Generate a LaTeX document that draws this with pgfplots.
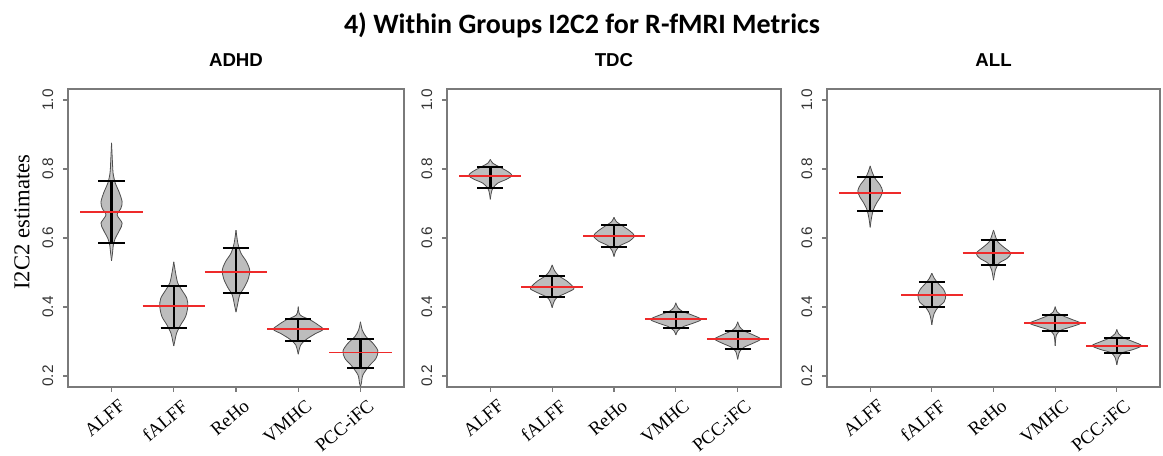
\documentclass[border=0pt]{standalone}
\usepackage{fontspec}
\setmainfont{Liberation Serif}
\newfontfamily\arial{Liberation Sans}
\newfontfamily\calibri{Carlito}
\usepackage{pgfplots}
\usepackage{pgfplotstable}
\pgfplotsset{compat=1.18}

\definecolor{vfill}{HTML}{BDBDBD}
\definecolor{vline}{HTML}{4D4D4D}
\definecolor{frame}{HTML}{7A7A7A}
\definecolor{meanred}{HTML}{EE2A2A}

% violin outlines: y, half width (category units)
% ADHD
\pgfplotstableread{
y w
0.534 0
0.556 0.015
0.580 0.03
0.599 0.06
0.623 0.13
0.643 0.17
0.667 0.09
0.686 0.15
0.705 0.17
0.734 0.12
0.759 0.06
0.788 0.025
0.817 0.015
0.876 0
}\aA
\pgfplotstableread{
y w
0.287 0
0.304 0.02
0.324 0.045
0.348 0.11
0.372 0.19
0.401 0.225
0.425 0.21
0.449 0.13
0.469 0.065
0.498 0.03
0.531 0
}\aB
\pgfplotstableread{
y w
0.385 0
0.411 0.03
0.435 0.06
0.459 0.14
0.483 0.20
0.507 0.22
0.531 0.17
0.556 0.08
0.585 0.03
0.623 0
}\aC
\pgfplotstableread{
y w
0.263 0
0.290 0.04
0.306 0.13
0.322 0.27
0.335 0.40
0.348 0.32
0.362 0.20
0.377 0.03
0.401 0
}\aD
\pgfplotstableread{
y w
0.170 0
0.179 0.015
0.203 0.04
0.229 0.14
0.251 0.25
0.273 0.28
0.295 0.20
0.314 0.09
0.333 0.03
0.357 0
}\aE
% TDC
\pgfplotstableread{
y w
0.712 0
0.730 0.015
0.744 0.04
0.759 0.12
0.770 0.26
0.781 0.35
0.792 0.29
0.805 0.16
0.817 0.04
0.828 0
}\tA
\pgfplotstableread{
y w
0.398 0
0.415 0.03
0.428 0.08
0.440 0.22
0.452 0.35
0.460 0.33
0.475 0.24
0.490 0.11
0.505 0.04
0.522 0
}\tB
\pgfplotstableread{
y w
0.546 0
0.563 0.03
0.578 0.10
0.591 0.25
0.606 0.33
0.620 0.26
0.635 0.14
0.647 0.04
0.660 0
}\tC
\pgfplotstableread{
y w
0.319 0
0.331 0.03
0.343 0.12
0.353 0.28
0.364 0.41
0.376 0.27
0.388 0.10
0.399 0.03
0.412 0
}\tD
\pgfplotstableread{
y w
0.248 0
0.270 0.03
0.283 0.10
0.295 0.25
0.307 0.37
0.319 0.25
0.331 0.10
0.343 0.03
0.357 0
}\tE
% ALL
\pgfplotstableread{
y w
0.631 0
0.657 0.02
0.681 0.05
0.700 0.10
0.720 0.17
0.737 0.20
0.754 0.16
0.773 0.08
0.792 0.03
0.809 0
}\lA
\pgfplotstableread{
y w
0.348 0
0.365 0.015
0.382 0.04
0.399 0.10
0.415 0.20
0.434 0.225
0.451 0.19
0.469 0.10
0.483 0.04
0.498 0
}\lB
\pgfplotstableread{
y w
0.478 0
0.507 0.03
0.527 0.09
0.541 0.22
0.556 0.28
0.573 0.17
0.589 0.07
0.606 0.03
0.623 0
}\lC
\pgfplotstableread{
y w
0.287 0
0.319 0.02
0.333 0.10
0.343 0.27
0.353 0.41
0.364 0.27
0.375 0.12
0.386 0.03
0.401 0
}\lD
\pgfplotstableread{
y w
0.232 0
0.254 0.03
0.268 0.10
0.277 0.27
0.288 0.40
0.299 0.27
0.310 0.12
0.322 0.03
0.335 0
}\lE

% #1 centre, #2 table
\newcommand{\violin}[2]{%
  \addplot[fill=vfill, draw=none, smooth, tension=0.5] table[x expr=#1+\thisrow{w}, y=y] {#2} -- cycle;
  \addplot[fill=vfill, draw=none, smooth, tension=0.5] table[x expr=#1-\thisrow{w}, y=y] {#2} -- cycle;
  \addplot[draw=vline, line width=0.6pt, smooth, tension=0.5] table[x expr=#1+\thisrow{w}, y=y] {#2};
  \addplot[draw=vline, line width=0.6pt, smooth, tension=0.5] table[x expr=#1-\thisrow{w}, y=y] {#2};
}

\pgfplotsset{
  panel/.style={
    scale only axis, height=223.5pt,
    xmin=0.3, xmax=5.7, ymin=0.168, ymax=1.032,
    xtick={1,2,3,4,5}, xticklabels={ALFF,fALFF,ReHo,VMHC,PCC-iFC},
    ytick={0.2,0.4,0.6,0.8,1.0}, yticklabels={0.2,0.4,0.6,0.8,1.0},
    axis line style={frame, line width=0.9pt},
    tick style={frame, line width=0.9pt},
    tick align=outside, tick pos=left, major tick length=3.5pt,
    xticklabel style={font=\fontsize{14}{14}\selectfont, inner sep=0pt,
      xshift=5pt, yshift=-5pt, rotate=40, anchor=north east},
    yticklabel style={font=\arial\fontsize{11.5}{11.5}\selectfont, text=black!80,
      rotate=90, anchor=south},
    yticklabel shift=4pt,
    title style={font=\arial\bfseries\fontsize{14}{14}\selectfont,
      at={(0.5,1)}, anchor=base, yshift=11.25pt},
    unbounded coords=jump,
  },
  whisk/.style={black, line width=1.8pt, mark=none},
  caps/.style={black, line width=1.4pt, mark=none},
  meanline/.style={meanred, line width=1.4pt, mark=none},
}

\begin{document}
\begin{tikzpicture}
\path[use as bounding box] (0,0) rectangle (872.25pt,341.25pt);
\node[font=\calibri\bfseries\fontsize{21}{21}\selectfont, anchor=base] at (436.5pt,316.5pt) {4) Within Groups I2C2 for R-fMRI Metrics};

\begin{axis}[panel, width=252pt, at={(51pt,51pt)}, anchor=south west, title={ADHD},
  ylabel={I2C2 estimates},
  ylabel style={font=\fontsize{17}{17}\selectfont, at={(axis description cs:-0.137,0.554)}, anchor=center}]
\violin{1}{\aA}
\violin{2}{\aB}
\violin{3}{\aC}
\violin{4}{\aD}
\violin{5}{\aE}
\addplot[whisk] coordinates {(1,0.585) (1,0.765) (1,nan) (2,0.340) (2,0.462) (2,nan) (3,0.440) (3,0.570) (3,nan) (4,0.301) (4,0.364) (4,nan) (5,0.222) (5,0.307)};
\addplot[caps] coordinates {(0.79,0.765) (1.21,0.765) (1,nan) (0.79,0.585) (1.21,0.585) (1,nan)
  (1.79,0.462) (2.21,0.462) (2,nan) (1.79,0.340) (2.21,0.340) (2,nan)
  (2.79,0.570) (3.21,0.570) (3,nan) (2.79,0.440) (3.21,0.440) (3,nan)
  (3.79,0.364) (4.21,0.364) (4,nan) (3.79,0.301) (4.21,0.301) (4,nan)
  (4.79,0.307) (5.21,0.307) (5,nan) (4.79,0.222) (5.21,0.222)};
\addplot[meanline] coordinates {(0.5,0.676) (1.5,0.676) (1,nan) (1.5,0.403) (2.5,0.403) (2,nan) (2.5,0.502) (3.5,0.502) (3,nan) (3.5,0.335) (4.5,0.335) (4,nan) (4.5,0.268) (5.5,0.268)};
\end{axis}

\begin{axis}[panel, width=250.5pt, at={(335.25pt,51pt)}, anchor=south west, title={TDC}]
\violin{1}{\tA}
\violin{2}{\tB}
\violin{3}{\tC}
\violin{4}{\tD}
\violin{5}{\tE}
\addplot[whisk] coordinates {(1,0.745) (1,0.805) (1,nan) (2,0.428) (2,0.490) (2,nan) (3,0.575) (3,0.638) (3,nan) (4,0.340) (4,0.385) (4,nan) (5,0.278) (5,0.330)};
\addplot[caps] coordinates {(0.79,0.805) (1.21,0.805) (1,nan) (0.79,0.745) (1.21,0.745) (1,nan)
  (1.79,0.490) (2.21,0.490) (2,nan) (1.79,0.428) (2.21,0.428) (2,nan)
  (2.79,0.638) (3.21,0.638) (3,nan) (2.79,0.575) (3.21,0.575) (3,nan)
  (3.79,0.385) (4.21,0.385) (4,nan) (3.79,0.340) (4.21,0.340) (4,nan)
  (4.79,0.330) (5.21,0.330) (5,nan) (4.79,0.278) (5.21,0.278)};
\addplot[meanline] coordinates {(0.5,0.780) (1.5,0.780) (1,nan) (1.5,0.457) (2.5,0.457) (2,nan) (2.5,0.606) (3.5,0.606) (3,nan) (3.5,0.364) (4.5,0.364) (4,nan) (4.5,0.307) (5.5,0.307)};
\end{axis}

\begin{axis}[panel, width=249.75pt, at={(620.25pt,51pt)}, anchor=south west, title={ALL}]
\violin{1}{\lA}
\violin{2}{\lB}
\violin{3}{\lC}
\violin{4}{\lD}
\violin{5}{\lE}
\addplot[whisk] coordinates {(1,0.678) (1,0.778) (1,nan) (2,0.399) (2,0.472) (2,nan) (3,0.522) (3,0.594) (3,nan) (4,0.331) (4,0.377) (4,nan) (5,0.266) (5,0.311)};
\addplot[caps] coordinates {(0.79,0.778) (1.21,0.778) (1,nan) (0.79,0.678) (1.21,0.678) (1,nan)
  (1.79,0.472) (2.21,0.472) (2,nan) (1.79,0.399) (2.21,0.399) (2,nan)
  (2.79,0.594) (3.21,0.594) (3,nan) (2.79,0.522) (3.21,0.522) (3,nan)
  (3.79,0.377) (4.21,0.377) (4,nan) (3.79,0.331) (4.21,0.331) (4,nan)
  (4.79,0.311) (5.21,0.311) (5,nan) (4.79,0.266) (5.21,0.266)};
\addplot[meanline] coordinates {(0.5,0.731) (1.5,0.731) (1,nan) (1.5,0.435) (2.5,0.435) (2,nan) (2.5,0.557) (3.5,0.557) (3,nan) (3.5,0.353) (4.5,0.353) (4,nan) (4.5,0.288) (5.5,0.288)};
\end{axis}
\end{tikzpicture}
\end{document}
